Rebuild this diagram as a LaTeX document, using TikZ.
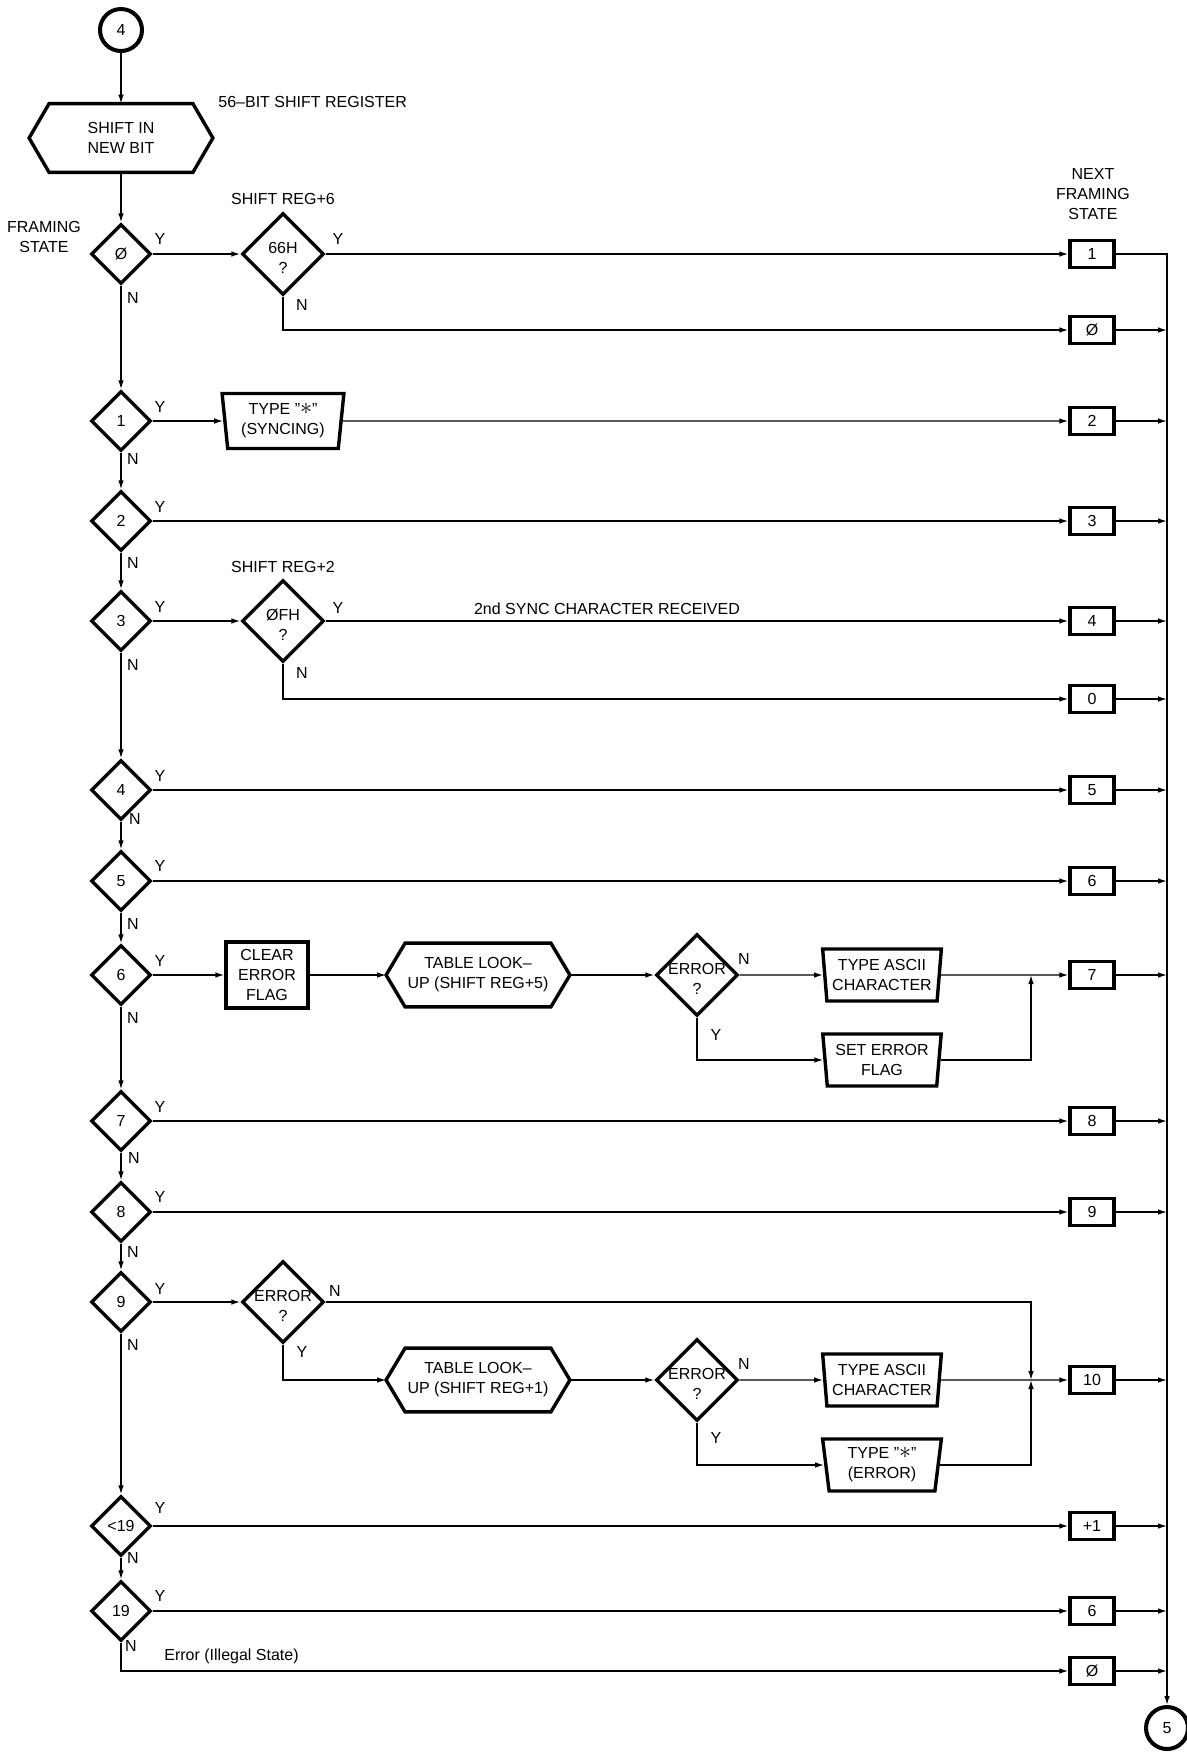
\documentclass[tikz,border=0pt]{standalone}
\usepackage{fontspec}
\setmainfont{Liberation Sans}
\usetikzlibrary{shapes.geometric,arrows.meta}
\newcommand\drawhex[2]{\draw[line width=1.7pt,line join=miter] (#1.west) -- ([xshift=#2]#1.north west) -- ([xshift=-#2]#1.north east) -- (#1.east) -- ([xshift=-#2]#1.south east) -- ([xshift=#2]#1.south west) -- cycle;}
\newcommand\dtext[2]{\raisebox{-4.5pt}[0pt][0pt]{\begin{tabular}{@{}c@{}}#1\\#2\end{tabular}}}
\newcommand\bigstar{{\fontsize{13}{10}\selectfont$\ast$}}
\begin{document}
\begin{tikzpicture}[x=0.5pt,y=-0.5pt,
  font=\fontsize{8}{10}\selectfont,
  shp/.style={draw, line width=1.7pt, align=center, inner sep=0pt},
  dia/.style={shp, diamond, aspect=1, minimum width=30pt, minimum height=30pt},
  bigdia/.style={shp, diamond, aspect=1, inner sep=0pt, minimum width=41pt, minimum height=41pt},
  nbox/.style={shp, rectangle, minimum width=22pt, minimum height=13.5pt},
  pbox/.style={shp, rectangle, minimum width=41pt, minimum height=33pt},
  io/.style={shp, trapezium, trapezium left angle=83, trapezium right angle=83, shape border rotate=180, trapezium stretches=true, minimum width=59.5pt, minimum height=26pt},
  hexnode/.style={align=center, inner sep=0pt, minimum width=91.5pt, minimum height=31.5pt},
  con/.style={shp, circle, minimum size=21pt, line width=2pt},
  conn/.style={line width=0.7pt, -{Latex[length=4.5pt,width=2.8pt]}},
  lab/.style={inner sep=0pt, align=center},
  yn/.style={inner sep=0pt}
]
\useasboundingbox (0,0) rectangle (1187,1753);

% nodes
\node[con] (c4) at (121,30) {4};
\node[hexnode, minimum height=34pt] (sh) at (121,138) {SHIFT IN\\NEW BIT};
\drawhex{sh}{10pt}
\node[lab, anchor=west] (lreg) at (218,102) {56--BIT SHIFT REGISTER};
\node[lab] (lfs) at (44,237) {FRAMING\\STATE};
\node[lab] (lnfs) at (1093,194) {NEXT\\FRAMING\\STATE};

\node[dia] (d0) at (121,254) {Ø};
\node[lab] (lsr6) at (283,199) {SHIFT REG+6};
\node[bigdia] (q66) at (283,254) {\dtext{66H}{?}};
\node[nbox] (b1) at (1092,254) {1};
\node[nbox] (b0a) at (1092,330) {Ø};

\node[dia] (d1) at (121,421) {1};
\node[io, minimum width=61pt, minimum height=27.5pt] (t1) at (283,421) {TYPE "\bigstar"\\(SYNCING)};
\node[nbox] (b2) at (1092,421) {2};

\node[dia] (d2) at (121,521) {2};
\node[nbox] (b3) at (1092,521) {3};

\node[dia] (d3) at (121,621) {3};
\node[lab] (lsr2) at (283,567) {SHIFT REG+2};
\node[bigdia] (q0f) at (283,621) {\dtext{ØFH}{?}};
\node[lab] (lsync) at (607,609) {2nd SYNC CHARACTER RECEIVED};
\node[nbox] (b4) at (1092,621) {4};
\node[nbox] (b0b) at (1092,699) {0};

\node[dia] (d4) at (121,790) {4};
\node[nbox] (b5) at (1092,790) {5};

\node[dia] (d5) at (121,881) {5};
\node[nbox] (b6a) at (1092,881) {6};

\node[dia] (d6) at (121,975) {6};
\node[pbox] (clr) at (267,975) {CLEAR\\ERROR\\FLAG};
\node[hexnode] (tl1) at (478,975) {TABLE LOOK--\\UP (SHIFT REG+5)};
\drawhex{tl1}{9.5pt}
\node[bigdia] (e1) at (697,975) {\dtext{ERROR}{?}};
\node[io] (ta1) at (882,975) {TYPE ASCII\\CHARACTER};
\node[io] (se) at (882,1060) {SET ERROR\\FLAG};
\coordinate (m1) at (1031,975);
\node[nbox] (b7) at (1092,975) {7};

\node[dia] (d7) at (121,1121) {7};
\node[nbox] (b8) at (1092,1121) {8};

\node[dia] (d8) at (121,1212) {8};
\node[nbox] (b9) at (1092,1212) {9};

\node[dia] (d9) at (121,1302) {9};
\node[bigdia] (e2) at (283,1302) {\dtext{ERROR}{?}};
\node[hexnode] (tl2) at (478,1380) {TABLE LOOK--\\UP (SHIFT REG+1)};
\drawhex{tl2}{9.5pt}
\node[bigdia] (e3) at (697,1380) {\dtext{ERROR}{?}};
\node[io] (ta2) at (882,1380) {TYPE ASCII\\CHARACTER};
\node[io] (te) at (882,1465) {TYPE "\bigstar"\\(ERROR)};
\coordinate (m2) at (1031,1380);
\node[nbox] (b10) at (1092,1380) {10};

\node[dia] (dlt) at (121,1526) {<19};
\node[nbox] (b11) at (1092,1526) {+1};

\node[dia] (d19) at (121,1611) {19};
\node[nbox] (b6b) at (1092,1611) {6};
\node[nbox] (b0c) at (1092,1671) {Ø};
\node[lab, anchor=west] (lerr) at (164,1656) {Error (Illegal State)};

\node[con] (c5) at (1167,1728) {5};

% Y / N labels
\foreach \n/\x/\y/\t in {
  ya/160/239/Y, yb/160/407/Y, yc/160/507/Y, yd/160/607/Y, ye/160/776/Y, yf/160/866/Y,
  yg/160/961/Y, yh/160/1107/Y, yi/160/1197/Y, yj/160/1289/Y, yk/160/1508/Y, yl/160/1596/Y,
  na/133/298/N, nb/133/459/N, nc/133/563/N, nd/133/665/N, ne/135/819/N, nf/133/924/N,
  ng/133/1018/N, nh/134/1158/N, ni/133/1252/N, nj/133/1345/N, nk/133/1558/N, nl/131/1646/N,
  ym/338/239/Y, nm/302/305/N, yn/338/608/Y, nn/302/673/N,
  no/744/959/N, yo/716/1035/Y, np/335/1291/N, yp/302/1352/Y,
  nq/744/1364/N, yq/716/1438/Y}
  {\node[yn] (\n) at (\x,\y) {\t};}

% main spine
\draw[conn] (c4) -- (sh);
\draw[conn] (sh) -- (d0);
\draw[conn] (d0) -- (d1);
\draw[conn] (d1) -- (d2);
\draw[conn] (d2) -- (d3);
\draw[conn] (d3) -- (d4);
\draw[conn] (d4) -- (d5);
\draw[conn] (d5) -- (d6);
\draw[conn] (d6) -- (d7);
\draw[conn] (d7) -- (d8);
\draw[conn] (d8) -- (d9);
\draw[conn] (d9) -- (dlt);
\draw[conn] (dlt) -- (d19);

% rows
\draw[conn] (d0) -- (q66);
\draw[conn] (q66) -- (b1);
\draw[conn] (q66.south) |- (b0a);
\draw[conn] (d1) -- (t1);
\draw[conn] (t1) -- (b2);
\draw[conn] (d2) -- (b3);
\draw[conn] (d3) -- (q0f);
\draw[conn] (q0f) -- (b4);
\draw[conn] (q0f.south) |- (b0b);
\draw[conn] (d4) -- (b5);
\draw[conn] (d5) -- (b6a);
\draw[conn] (d6) -- (clr);
\draw[conn] (clr) -- (tl1);
\draw[conn] (tl1) -- (e1);
\draw[conn] (e1) -- (ta1);
\draw[conn] (e1.south) |- (se);
\draw[conn] (ta1) -- (b7);
\draw[conn] (se.east) -| (m1);
\draw[conn] (d7) -- (b8);
\draw[conn] (d8) -- (b9);
\draw[conn] (d9) -- (e2);
\draw[conn] (e2.east) -| (m2);
\draw[conn] (e2.south) |- (tl2);
\draw[conn] (tl2) -- (e3);
\draw[conn] (e3) -- (ta2);
\draw[conn] (e3.south) |- (te);
\draw[conn] (te.east) -| (m2);
\draw[conn] (ta2) -- (b10);
\draw[conn] (dlt) -- (b11);
\draw[conn] (d19) -- (b6b);
\draw[conn] (d19.south) |- (b0c);

% right bus
\draw[conn] (b1.east) -| (c5.north);
\foreach \b in {b0a,b2,b3,b4,b0b,b5,b6a,b7,b8,b9,b10,b11,b6b,b0c}
  {\draw[conn] (\b.east) -- (\b.east -| c5.north);}
\end{tikzpicture}
\end{document}
